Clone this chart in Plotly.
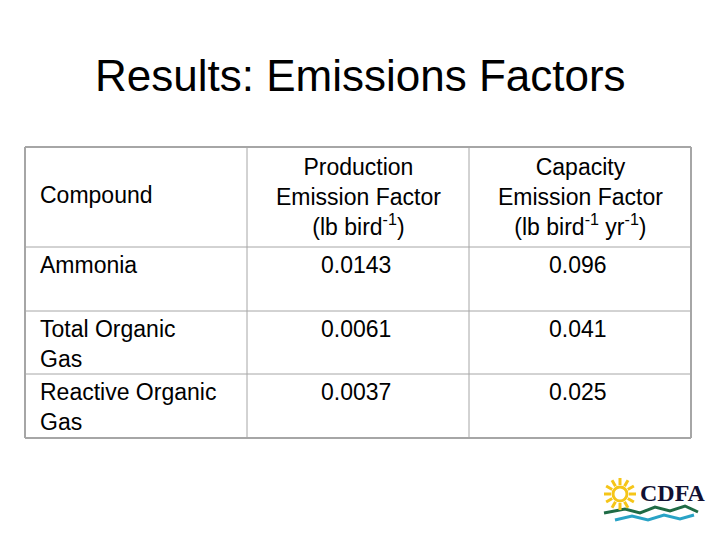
import numpy as np
import plotly.graph_objects as go

title = "Results: Emissions Factors"
headers = ["Compound",
           "Production<br>Emission Factor<br>(lb bird<sup>-1</sup>)",
           "Capacity<br>Emission Factor<br>(lb bird<sup>-1</sup> yr<sup>-1</sup>)"]
compounds = ["Ammonia", "Total Organic<br>Gas", "Reactive Organic<br>Gas"]
production = ["0.0143", "0.0061", "0.0037"]
capacity = ["0.096", "0.041", "0.025"]

col_x = [25, 247, 469, 691]
row_y = [147, 247, 311, 374, 438]
line_col = "#a6a6a6"
font = "Liberation Sans, Arial"
fs = 23

fig = go.Figure()
fig.add_annotation(x=360, y=75, text=title, showarrow=False,
                   font=dict(size=44, color="black", family=font))

# grid lines (outer border a bit heavier)
for j, y in enumerate(row_y):
    w = 2 if j in (0, len(row_y) - 1) else 1
    fig.add_shape(type="line", x0=col_x[0], x1=col_x[-1], y0=y, y1=y,
                  line=dict(color=line_col, width=w))
for j, x in enumerate(col_x):
    w = 2 if j in (0, len(col_x) - 1) else 1
    fig.add_shape(type="line", x0=x, x1=x, y0=row_y[0], y1=row_y[-1],
                  line=dict(color=line_col, width=w))

# header
fig.add_annotation(x=38, y=195, text=headers[0], xanchor="left", showarrow=False,
                   font=dict(size=fs, family=font, color="black"))
for i in (1, 2):
    fig.add_annotation(x=(col_x[i] + col_x[i + 1]) / 2, y=197, text=headers[i],
                       showarrow=False, align="center",
                       font=dict(size=fs, family=font, color="black"))

# body rows
for r in range(3):
    top = row_y[r + 1]
    fig.add_annotation(x=38, y=top + 3, text=compounds[r], xanchor="left",
                       yanchor="top", align="left", showarrow=False,
                       font=dict(size=fs, family=font, color="black"))
    fig.add_annotation(x=319, y=top + 3, text=production[r], xanchor="left",
                       yanchor="top", showarrow=False,
                       font=dict(size=fs, family=font, color="black"))
    fig.add_annotation(x=547, y=top + 3, text=capacity[r], xanchor="left",
                       yanchor="top", showarrow=False,
                       font=dict(size=fs, family=font, color="black"))

# CDFA logo
cx, cy = 620, 494
for a in np.linspace(0, 2 * np.pi, 12, endpoint=False):
    fig.add_shape(type="line", x0=cx + 9 * np.cos(a), y0=cy + 9 * np.sin(a),
                  x1=cx + 16 * np.cos(a), y1=cy + 16 * np.sin(a),
                  line=dict(color="#f5c518", width=3))
fig.add_shape(type="circle", x0=cx - 7, x1=cx + 7, y0=cy - 7, y1=cy + 7,
              line=dict(color="#f5c518", width=3), fillcolor="white")
fig.add_annotation(x=638, y=493, text="<b>CDFA</b>", xanchor="left", showarrow=False,
                   font=dict(size=24, family="Liberation Serif", color="#111133"))
fig.add_trace(go.Scatter(x=[604, 625, 640, 655, 670, 685, 698],
                         y=[513, 509, 513, 507, 511, 506, 512], mode="lines",
                         line=dict(color="#1f6b45", width=3), hoverinfo="skip"))
fig.add_trace(go.Scatter(x=[615, 632, 648, 664, 680, 694],
                         y=[520, 516, 520, 515, 519, 515], mode="lines",
                         line=dict(color="#29a3c6", width=3), hoverinfo="skip"))

# page body adds an 8px offset, so shift the axis ranges to compensate
fig.update_layout(width=720, height=540, margin=dict(l=0, r=0, t=0, b=0),
                  paper_bgcolor="white", plot_bgcolor="white", showlegend=False,
                  xaxis=dict(range=[8, 728], visible=False, fixedrange=True),
                  yaxis=dict(range=[548, 8], visible=False, fixedrange=True))
fig.write_html("out.html")
